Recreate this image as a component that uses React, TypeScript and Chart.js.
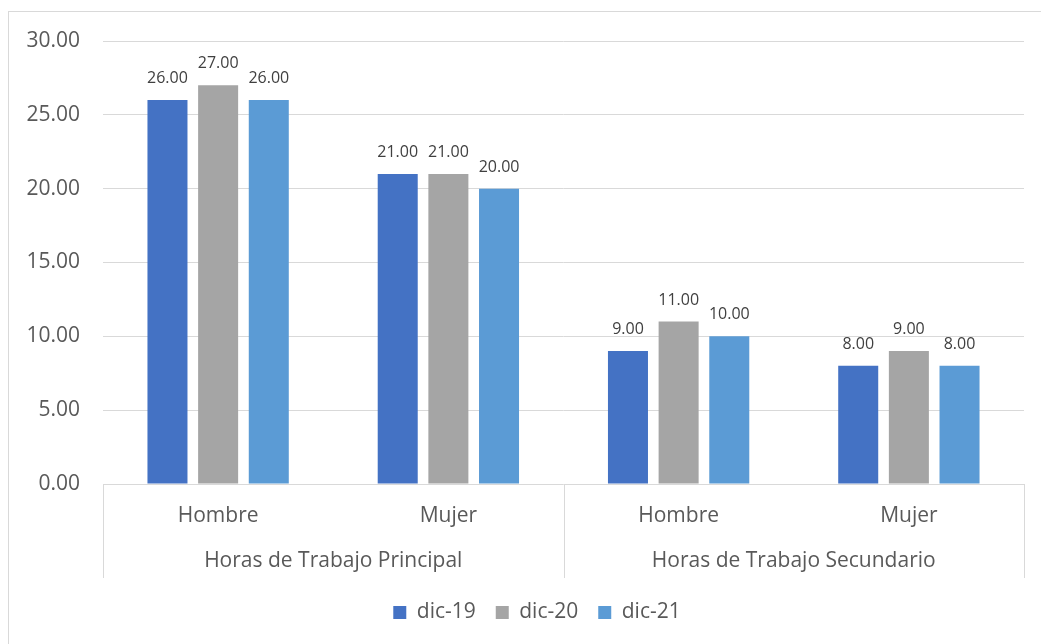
import React, { useEffect, useRef } from 'react';
import { Chart, registerables } from 'chart.js';

Chart.register(...registerables);

const groupLabels = ['Horas de Trabajo Principal', 'Horas de Trabajo Secundario'];
const categories = ['Hombre', 'Mujer', 'Hombre', 'Mujer'];
const categoryGroup = [0, 0, 1, 1];
const seriesNames = ['dic-19', 'dic-20', 'dic-21'];
const dic19 = [26, 21, 9, 8];
const dic20 = [27, 21, 11, 9];
const dic21 = [26, 20, 10, 8];
const seriesColors = ['#4472C4', '#A5A5A5', '#5B9BD5'];
const yMin = 0;
const yMax = 30;
const yStep = 5;

const FONT = "'Open Sans', 'Noto Sans', sans-serif";
const TEXT = '#595959';
const LINE = '#D9D9D9';
const XAXIS_H = 94;

const decorPlugin = {
  id: 'decor',
  afterLayout(chart: any) {
    const lg = chart.legend;
    if (lg) {
      lg.left += 21;
      lg.right += 21;
      lg.top += 4;
      lg.bottom += 4;
    }
  },
  beforeDraw(chart: any) {
    const ctx = chart.ctx;
    ctx.save();
    ctx.fillStyle = '#ffffff';
    ctx.fillRect(0, 0, chart.width, chart.height);
    ctx.strokeStyle = LINE;
    ctx.lineWidth = 1;
    ctx.strokeRect(8.5, 11.5, chart.width + 20, chart.height + 20);
    ctx.restore();
  },
  afterDraw(chart: any) {
    const ctx = chart.ctx;
    const area = chart.chartArea;
    const xs = chart.scales.x;
    ctx.save();
    // data labels
    ctx.font = `16px ${FONT}`;
    ctx.fillStyle = '#404040';
    ctx.textAlign = 'center';
    ctx.textBaseline = 'alphabetic';
    chart.data.datasets.forEach((ds: any, di: number) => {
      const meta = chart.getDatasetMeta(di);
      meta.data.forEach((el: any, i: number) => {
        ctx.fillText(Number(ds.data[i]).toFixed(2), el.x, el.y - 17);
      });
    });
    // separators
    ctx.strokeStyle = LINE;
    ctx.lineWidth = 1;
    const bounds: number[] = [area.left];
    for (let i = 1; i < categories.length; i++) {
      if (categoryGroup[i] !== categoryGroup[i - 1]) {
        bounds.push((xs.getPixelForValue(i - 1) + xs.getPixelForValue(i)) / 2);
      }
    }
    bounds.push(area.right);
    bounds.forEach((bx) => {
      const px = Math.round(bx) + 0.5;
      ctx.beginPath();
      ctx.moveTo(px, area.bottom);
      ctx.lineTo(px, area.bottom + XAXIS_H);
      ctx.stroke();
    });
    // group labels
    ctx.font = `21px ${FONT}`;
    ctx.fillStyle = TEXT;
    ctx.textBaseline = 'middle';
    groupLabels.forEach((g, gi) => {
      const idx = categoryGroup.map((v, i) => (v === gi ? i : -1)).filter((i) => i >= 0);
      const cx = idx.reduce((s, i) => s + xs.getPixelForValue(i), 0) / idx.length;
      ctx.fillText(g, cx, area.bottom + 77);
    });
    ctx.restore();
  },
};

export default function App() {
  const ref = useRef<HTMLCanvasElement | null>(null);
  useEffect(() => {
    if (!ref.current) return;
    const data = [dic19, dic20, dic21];
    const chart = new Chart(ref.current, {
      type: 'bar',
      data: {
        labels: categories,
        datasets: seriesNames.map((n, i) => ({
          label: n,
          data: data[i],
          backgroundColor: seriesColors[i],
          borderWidth: 0,
          categoryPercentage: 0.66,
          barPercentage: 0.79,
        })),
      },
      options: {
        animation: false,
        responsive: true,
        maintainAspectRatio: false,
        layout: { padding: { left: 8, right: 17, top: 41, bottom: 15 } },
        plugins: {
          tooltip: { enabled: false },
          legend: {
            position: 'bottom',
            labels: {
              boxWidth: 13,
              boxHeight: 13,
              padding: 20,
              color: TEXT,
              font: { family: FONT, size: 21 },
            },
          },
        },
        scales: {
          x: {
            grid: { display: false },
            border: { display: false },
            ticks: { color: TEXT, font: { family: FONT, size: 21 }, padding: 11, maxRotation: 0, autoSkip: false },
            afterFit: (s: any) => { s.height = XAXIS_H; },
          },
          y: {
            min: yMin,
            max: yMax,
            border: { display: false },
            grid: { color: LINE, drawTicks: false, lineWidth: 1 },
            ticks: {
              stepSize: yStep,
              color: TEXT,
              padding: 23,
              font: { family: FONT, size: 21 },
              callback: (v: any) => Number(v).toFixed(2),
            },
            afterFit: (s: any) => { s.width = 95; },
          },
        },
      },
      plugins: [decorPlugin],
    });
    return () => chart.destroy();
  }, []);
  return (
    <div style={{ position: 'absolute', left: 0, top: 0, width: 1041, height: 644 }}>
      <canvas ref={ref} />
    </div>
  );
}
